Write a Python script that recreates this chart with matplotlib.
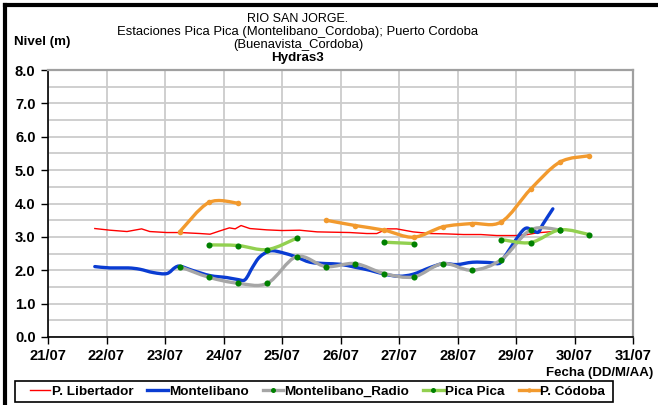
import numpy as np
import matplotlib
matplotlib.use("Agg")
import matplotlib.pyplot as plt
from matplotlib.path import Path
from matplotlib.patches import PathPatch, Rectangle
from matplotlib.lines import Line2D
from matplotlib.ticker import MultipleLocator, FixedLocator

plt.rcParams["font.family"] = ["Liberation Sans", "DejaVu Sans"]

nan = np.nan

# tiempo en dias de julio (dia + fraccion de dia)
libertador_t = [21.80, 22.06, 22.35, 22.60, 22.74, 23.03, 23.26, 23.60, 23.77, 23.94,
                24.10, 24.20, 24.30, 24.45, 24.74, 25.00, 25.30, 25.60, 25.87, 26.16,
                26.45, 26.62, 26.80, 26.96, 27.24, 27.53, 27.80, 28.10, 28.40, 28.67,
                29.00, 29.20, 29.36, 29.63]
libertador_v = [3.25, 3.20, 3.16, 3.24, 3.16, 3.13, 3.13, 3.10, 3.08, 3.18,
                3.27, 3.24, 3.34, 3.25, 3.21, 3.19, 3.20, 3.15, 3.14, 3.13,
                3.10, 3.10, 3.24, 3.24, 3.15, 3.10, 3.09, 3.07, 3.07, 3.04,
                3.04, 3.07, 3.12, 3.16]

montelibano_t = [21.80, 22.06, 22.37, 22.57, 22.80, 23.03, 23.17, 23.26, 23.48, 23.77,
                 24.06, 24.25, 24.37, 24.50, 24.62, 24.80, 25.00, 25.24, 25.48, 25.75,
                 25.99, 26.25, 26.50, 26.76, 27.00, 27.24, 27.53, 27.76, 27.99, 28.26,
                 28.55, 28.70, 28.78, 29.12, 29.27, 29.38, 29.46, 29.63]
montelibano_v = [2.11, 2.07, 2.07, 2.03, 1.93, 1.90, 2.08, 2.12, 1.99, 1.84,
                 1.78, 1.72, 1.72, 2.10, 2.40, 2.58, 2.53, 2.40, 2.24, 2.20,
                 2.18, 2.09, 2.00, 1.88, 1.82, 1.88, 2.08, 2.20, 2.17, 2.24,
                 2.23, 2.20, 2.34, 3.20, 3.20, 3.14, 3.38, 3.84]

radio_t = [23.25, 23.75, 24.25, 24.75, 25.25, 25.75, 26.25, 26.75, 27.25, 27.75,
           28.25, 28.75, 29.25, 29.75]
radio_v = [2.11, 1.79, 1.61, 1.61, 2.41, 2.11, 2.20, 1.90, 1.80, 2.20,
           2.00, 2.32, 3.21, 3.21]

pica_t = [23.75, 24.25, 24.75, 25.25, 25.75, 26.25, 26.75, 27.25, 27.75, 28.25,
          28.75, 29.25, 29.75, 30.25]
pica_v = [2.76, 2.74, 2.62, 2.96, nan, nan, 2.84, 2.80, nan, nan,
          2.92, 2.83, 3.21, 3.07]

cordoba_t = [23.25, 23.75, 24.25, 24.75, 25.25, 25.75, 26.25, 26.75, 27.25, 27.75,
             28.25, 28.75, 29.25, 29.75, 30.25]
cordoba_v = [3.15, 4.03, 4.01, nan, nan, 3.50, 3.34, 3.20, 2.99, 3.30,
             3.40, 3.45, 4.43, 5.24, 5.43]

dias = list(range(21, 32))
dia_labels = ["%02d/07" % d for d in dias]


def smooth_path(x, y):
    """Curva suavizada (Bezier tipo Catmull-Rom) que pasa por todos los puntos."""
    n = len(x)
    verts = [(x[0], y[0])]
    codes = [Path.MOVETO]
    for i in range(n - 1):
        a = i - 1 if i > 0 else i
        d = i + 2 if i + 2 < n else i + 1
        c1 = (x[i] + (x[i + 1] - x[a]) / 6.0, y[i] + (y[i + 1] - y[a]) / 6.0)
        c2 = (x[i + 1] - (x[d] - x[i]) / 6.0, y[i + 1] - (y[d] - y[i]) / 6.0)
        verts += [c1, c2, (x[i + 1], y[i + 1])]
        codes += [Path.CURVE4] * 3
    return Path(verts, codes)


def segments(t, v):
    t = np.asarray(t, float)
    v = np.asarray(v, float)
    ok = np.isfinite(v)
    out, cur = [], []
    for ti, vi, k in zip(t, v, ok):
        if k:
            cur.append((ti, vi))
        elif cur:
            out.append(cur)
            cur = []
    if cur:
        out.append(cur)
    return out


def draw_series(ax, t, v, color, lw, smooth=True, mcolor=None, ms=0, z=3):
    for seg in segments(t, v):
        xs = [p[0] for p in seg]
        ys = [p[1] for p in seg]
        if len(seg) > 1:
            if smooth:
                patch = PathPatch(smooth_path(xs, ys), fill=False, edgecolor=color,
                                  lw=lw, capstyle="round", joinstyle="round", zorder=z)
                ax.add_patch(patch)
            else:
                ax.plot(xs, ys, color=color, lw=lw, zorder=z)
    if ms:
        ax.plot(t, v, "o", ls="none", color=mcolor, ms=ms, mew=0, zorder=z + 0.5)


W, H = 658, 405
fig = plt.figure(figsize=(W / 100, H / 100), dpi=100)
ax = fig.add_axes([48 / W, 1 - 337 / H, (633 - 48) / W, (337 - 70) / H])

c_red = "#ff0000"
c_blue = "#0a3cd2"
c_gray = "#a6a6a6"
c_lgreen = "#92d050"
c_dgreen = "#008000"
c_orange = "#f29a2e"

draw_series(ax, libertador_t, libertador_v, c_red, 1.0, smooth=False, z=2)
draw_series(ax, montelibano_t, montelibano_v, c_blue, 2.4, z=3)
draw_series(ax, radio_t, radio_v, c_gray, 2.4, mcolor=c_dgreen, ms=4.4, z=4)
draw_series(ax, pica_t, pica_v, c_lgreen, 2.4, mcolor=c_dgreen, ms=4.4, z=5)
draw_series(ax, cordoba_t, cordoba_v, c_orange, 2.4, mcolor=c_orange, ms=4.0, z=6)

ax.set_xlim(21, 31)
ax.set_ylim(0, 8)
ax.xaxis.set_major_locator(FixedLocator(dias))
ax.set_xticklabels(dia_labels)
ax.yaxis.set_major_locator(MultipleLocator(1.0))
ax.yaxis.set_minor_locator(MultipleLocator(0.5))
ax.set_yticklabels(["%.1f" % v for v in ax.get_yticks()])

ax.grid(True, which="both", axis="y", color="#cccccc", lw=1.3, zorder=0)
ax.grid(True, which="major", axis="x", color="#cccccc", lw=1.3, zorder=0)
ax.set_axisbelow(True)

ax.tick_params(axis="both", which="major", direction="out", length=5, width=1,
               color="black", labelsize=10.6, pad=4)
ax.tick_params(axis="y", which="minor", length=0)
for lab in ax.get_xticklabels() + ax.get_yticklabels():
    lab.set_fontweight("bold")

for side in ("left", "bottom"):
    ax.spines[side].set_color("black")
    ax.spines[side].set_linewidth(1.2)
for side in ("top", "right"):
    ax.spines[side].set_color("#a0a0a0")
    ax.spines[side].set_linewidth(1.6)

# titulos
cx = 298 / W
fig.text(cx, 1 - 19 / H, "RIO SAN JORGE.", ha="center", va="center", fontsize=9)
fig.text(cx, 1 - 32 / H, "Estaciones Pica Pica (Montelibano_Cordoba); Puerto Cordoba",
         ha="center", va="center", fontsize=9.4)
fig.text(cx, 1 - 45 / H, "(Buenavista_Cordoba)", ha="center", va="center", fontsize=9.4)
fig.text(cx, 1 - 58 / H, "Hydras3", ha="center", va="center", fontsize=9.6,
         fontweight="bold")
fig.text(14 / W, 1 - 42 / H, "Nivel (m)", ha="left", va="center", fontsize=9.6,
         fontweight="bold")
fig.text(653 / W, 1 - 373 / H, "Fecha (DD/M/AA)", ha="right", va="center",
         fontsize=9.5, fontweight="bold")

# leyenda: recuadro propio y entradas en una fila
handles = [
    Line2D([], [], color=c_red, lw=1.0),
    Line2D([], [], color=c_blue, lw=2.4),
    Line2D([], [], color=c_gray, lw=2.4, marker="o", mfc=c_dgreen, mec=c_dgreen,
           ms=3.6, mew=0),
    Line2D([], [], color=c_lgreen, lw=2.4, marker="o", mfc=c_dgreen, mec=c_dgreen,
           ms=3.6, mew=0),
    Line2D([], [], color=c_orange, lw=2.4, marker="o", mfc=c_orange, mec=c_orange,
           ms=3.2, mew=0),
]
labels = ["P. Libertador", "Montelibano", "Montelibano_Radio", "Pica Pica", "P. Códoba"]
fig.legend(handles, labels, loc="center left", bbox_to_anchor=(30 / W, 1 - 391.5 / H),
           ncol=5, frameon=False, prop={"size": 9.7, "weight": "bold"},
           handlelength=1.5, handletextpad=0.1, columnspacing=1.05, borderpad=0.0,
           borderaxespad=0.0)
fig.add_artist(Rectangle((15 / W, 1 - 402 / H), (613 - 15) / W, 21 / H, fill=False,
                         edgecolor="black", lw=1.2, transform=fig.transFigure))

# marco exterior (izquierda y arriba)
fig.add_artist(Line2D([5 / W, 5 / W], [0, 1 - 5 / H], color="black", lw=3,
                      transform=fig.transFigure))
fig.add_artist(Line2D([5 / W, 1], [1 - 5 / H, 1 - 5 / H], color="black", lw=3,
                      transform=fig.transFigure))

fig.savefig("out.png", dpi=100)
